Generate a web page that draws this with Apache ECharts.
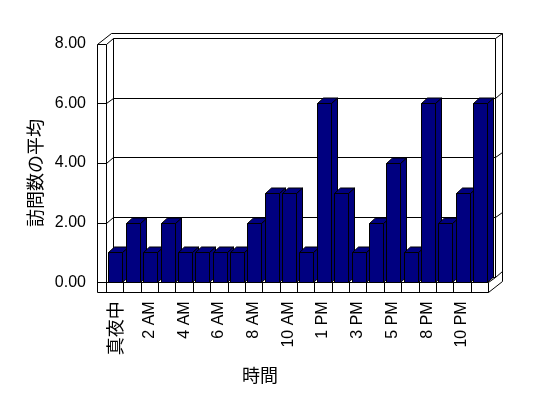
<html style="height: 100%">
<head>
	<meta charset="utf-8">
	<script type="text/javascript" src="https://cdn.jsdelivr.net/npm/echarts@6/dist/echarts.min.js"></script>
</head>

<body style="height: 100%; margin: 0; background: #fff">
	<div id="container" style="height:398px;width:548px"></div>
</body>

<script type="text/javascript">
	var dom = document.getElementById("container");
	var myChart = echarts.init(dom);

	// 時間ごとの訪問数の平均
	var hours = ['真夜中', '1 AM', '2 AM', '3 AM', '4 AM', '5 AM', '6 AM', '7 AM', '8 AM', '9 AM', '10 AM', '11 AM',
		'1 PM', '2 PM', '3 PM', '4 PM', '5 PM', '7 PM', '8 PM', '9 PM', '10 PM', '11 PM'];
	var visits = [1, 2, 1, 2, 1, 1, 1, 1, 2, 3, 3, 1, 6, 3, 1, 2, 4, 1, 6, 2, 3, 6];
	var yTicks = [0, 2, 4, 6, 8];

	var numFont = '"Liberation Sans", Arial, sans-serif';
	var narrowFont = '"Liberation Sans Narrow", "Liberation Sans", sans-serif';
	var jpFont = '"Noto Sans CJK JP", sans-serif';

	// 奥行き
	var DX = 7, DY = 5.5, WALL = 8.7, FLOOR = 9.4;
	var BDX = 6, BDY = 5.5;

	function px(v) { return Math.round(v) + 0.5; }

	function ln(points) {
		return {
			type: 'polyline',
			shape: { points: points.map(function (p) { return [px(p[0]), px(p[1])]; }) },
			style: { stroke: '#000', fill: null, lineWidth: 1 }
		};
	}

	function renderFrame(params, api) {
		var c0 = api.coord([0, 0]);
		var band = api.size([1, 0])[0];
		var L = c0[0] - band / 2, R = L + band * hours.length;
		var y0 = c0[1], y8 = api.coord([0, yTicks[yTicks.length - 1]])[1];
		var kids = [];
		// 奥の壁
		yTicks.forEach(function (v) {
			var y = api.coord([0, v])[1];
			kids.push(ln([[L + DX, y - DY], [R + DX, y - DY], [R + 2 * DX, y - 2 * DY]]));
			if (v > 0 && v < 8) {
				kids.push(ln([[L - WALL, y], [L, y], [L + DX, y - DY]]));
			}
		});
		kids.push(ln([[L + DX, y0 - DY], [L + DX, y8 - DY]]));
		kids.push(ln([[R + DX, y0 - DY], [R + DX, y8 - DY]]));
		kids.push(ln([[L - WALL, y8], [L - WALL + 2 * DX, y8 - 2 * DY], [R + 2 * DX, y8 - 2 * DY], [R + 2 * DX, y0 + FLOOR - 2 * DY], [R, y0 + FLOOR]]));
		// 左の壁
		kids.push(ln([[L - WALL, y8], [L, y8], [L + DX, y8 - DY]]));
		kids.push(ln([[L - WALL, y8], [L - WALL, y0 + FLOOR]]));
		kids.push(ln([[L, y8], [L, y0]]));
		// 床
		kids.push(ln([[L - WALL, y0], [R, y0], [R + DX, y0 - DY]]));
		kids.push(ln([[L - WALL, y0 + FLOOR], [R, y0 + FLOOR]]));
		for (var i = 0; i <= hours.length; i++) {
			kids.push(ln([[L + band * i, y0], [L + band * i, y0 + FLOOR]]));
		}
		return { type: 'group', children: kids };
	}

	function renderBar(params, api) {
		var i = api.value(0), v = api.value(1);
		var top = api.coord([i, v]), base = api.coord([i, 0]);
		var band = api.size([1, 0])[0];
		var x0 = px(top[0] - band / 2 + band * 0.14);
		var x1 = x0 + Math.round(band * 0.81);
		var y1 = px(top[1]), y0 = px(base[1]);
		var st = { fill: '#000080', stroke: '#000', lineWidth: 1 };
		return {
			type: 'group',
			children: [
				{ type: 'polygon', shape: { points: [[x1, y1], [x1 + BDX, y1 - BDY], [x1 + BDX, y0 - BDY], [x1, y0]] }, style: st },
				{ type: 'polygon', shape: { points: [[x0, y1], [x1, y1], [x1 + BDX, y1 - BDY], [x0 + BDX, y1 - BDY]] }, style: st },
				{ type: 'rect', shape: { x: x0, y: y1, width: x1 - x0, height: y0 - y1 }, style: st }
			]
		};
	}

	var option = {
		backgroundColor: '#fff',
		animation: false,
		grid: { left: 106, right: 60, top: 43.5, bottom: 115.7 },
		xAxis: {
			type: 'category',
			data: hours,
			name: '時間',
			nameLocation: 'middle',
			nameGap: 84,
			nameTextStyle: { fontFamily: jpFont, fontSize: 18, color: '#000', padding: [0, 74, 0, 0] },
			axisLine: { show: false },
			axisTick: { show: false },
			axisLabel: {
				interval: 1,
				rotate: 90,
				margin: 19,
				color: '#000',
				fontFamily: narrowFont,
				fontSize: 16,
				formatter: function (v) { return v === '真夜中' ? '{j|' + v + '}' : v; },
				rich: { j: { fontFamily: jpFont, fontSize: 18, color: '#000' } }
			}
		},
		yAxis: {
			type: 'value',
			min: 0,
			max: 8,
			interval: 2,
			name: '訪問数の平均',
			nameLocation: 'middle',
			nameRotate: 90,
			nameGap: 62,
			nameTextStyle: { fontFamily: jpFont, fontSize: 18, color: '#000', padding: [0, 20, 0, 0] },
			axisLine: { show: false },
			axisTick: { show: false },
			splitLine: { show: false },
			axisLabel: {
				margin: 20,
				color: '#000',
				fontFamily: numFont,
				fontSize: 16,
				formatter: function (v) { return v.toFixed(2); }
			}
		},
		series: [
			{
				type: 'custom',
				z: 1,
				silent: true,
				renderItem: renderFrame,
				data: [[0, 0]]
			},
			{
				type: 'custom',
				z: 2,
				renderItem: renderBar,
				data: visits.map(function (v, i) { return [i, v]; })
			}
		]
	};

	myChart.setOption(option);
</script>

</html>
